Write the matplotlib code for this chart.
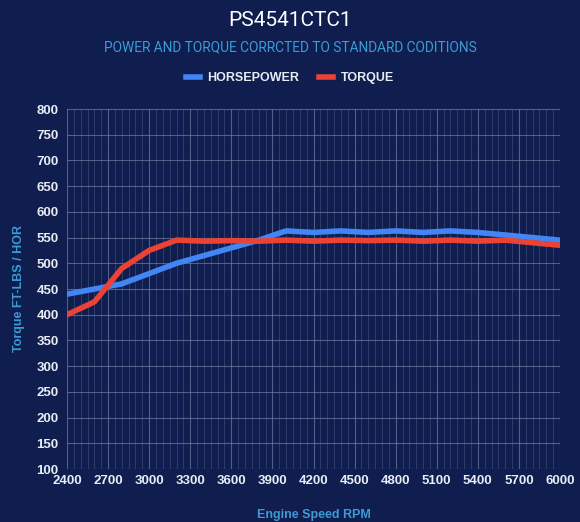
import numpy as np
import matplotlib
matplotlib.use("Agg")
import matplotlib.pyplot as plt
from matplotlib.ticker import MultipleLocator

rpm = [2400, 2600, 2800, 3000, 3200, 3400, 3600, 3800, 4000, 4200,
       4400, 4600, 4800, 5000, 5200, 5400, 5600, 5800, 6000]
horsepower = [440, 450, 460, 480, 500, 515, 530, 545, 563, 560,
              563, 560, 563, 560, 563, 560, 555, 550, 545]
torque = [400, 425, 490, 525, 545, 543, 544, 543, 545, 543,
          545, 544, 545, 543, 545, 543, 545, 540, 535]

bg = "#0f1e4e"
blue = "#4285f4"
red = "#ea4335"
light_blue = "#3d9ad6"

plt.rcParams['font.family'] = ['Liberation Sans', 'DejaVu Sans']

fig = plt.figure(figsize=(5.8, 5.22), dpi=100, facecolor=bg)
ax = fig.add_axes([67 / 580, 1 - 469 / 522, 493 / 580, 360 / 522])
ax.set_facecolor(bg)

ax.plot(rpm, horsepower, color=blue, lw=4, label="HORSEPOWER", solid_joinstyle='round', zorder=3)
ax.plot(rpm, torque, color=red, lw=4, label="TORQUE", solid_joinstyle='round', zorder=4)

ax.set_xlim(2400, 6000)
ax.set_ylim(100, 800)
ax.xaxis.set_major_locator(MultipleLocator(300))
ax.xaxis.set_minor_locator(MultipleLocator(50))
ax.yaxis.set_major_locator(MultipleLocator(50))

ax.grid(which='major', color='#6f7ca0', lw=0.8, alpha=0.7)
ax.grid(which='minor', axis='x', color='#3c4a78', lw=0.6, alpha=0.8)
ax.set_axisbelow(True)
for s in ax.spines.values():
    s.set_visible(False)

ax.tick_params(which='both', length=0, colors='#e8ecf5', labelsize=9.5)
ax.tick_params(axis='x', pad=4)
ax.tick_params(axis='y', pad=6)
for lbl in ax.get_xticklabels() + ax.get_yticklabels():
    lbl.set_fontweight('bold')

ax.set_xlabel("Engine Speed RPM", color=light_blue, fontsize=9, fontweight='bold', labelpad=16)
ax.set_ylabel("Torque FT-LBS / HOR", color=light_blue, fontsize=9, fontweight='bold', labelpad=8)

fig.text(0.5, 1 - 20 / 522, "PS4541CTC1", ha='center', va='center', color='white',
         fontsize=15, family=['Roboto', 'DejaVu Sans'])
fig.text(0.5, 1 - 47 / 522, "POWER AND TORQUE CORRCTED TO STANDARD CODITIONS",
         ha='center', va='center', color=light_blue, fontsize=9.9, family=['Roboto', 'DejaVu Sans'])

leg = fig.legend(loc='center', bbox_to_anchor=(0.5, 1 - 78 / 522), ncol=2, frameon=False,
                 handlelength=1.1, handletextpad=0.6, columnspacing=1.6,
                 prop={'size': 9, 'weight': 'bold'})
for t in leg.get_texts():
    t.set_color('#e8ecf5')
for h in leg.get_lines():
    h.set_linewidth(4)

fig.savefig("out.png", dpi=100, facecolor=bg)
